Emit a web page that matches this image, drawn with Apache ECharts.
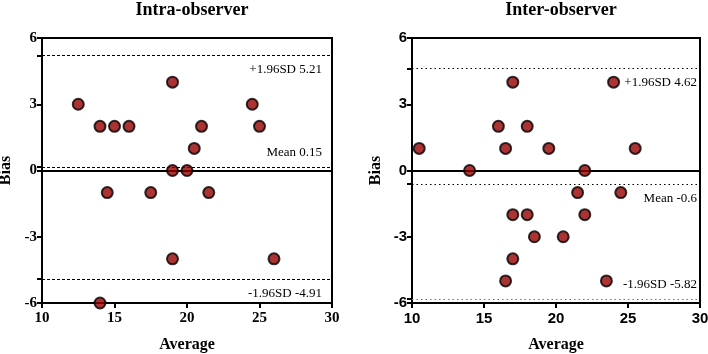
<!DOCTYPE html>
<html><head><meta charset="utf-8">
<script src="https://cdn.jsdelivr.net/npm/echarts@6/dist/echarts.min.js"></script>
<style>html,body{margin:0;padding:0;background:#fff}#c{width:708px;height:354px}</style>
</head><body><div id="c"></div>
<script>
const titles = ['Intra-observer', 'Inter-observer'];
const intraAvg  = [12.5, 14, 15, 16, 19, 24.5, 25, 21, 20.5, 19, 20, 14.5, 17.5, 21.5, 19, 26, 14];
const intraBias = [3, 2, 2, 2, 4, 3, 2, 2, 1, 0, 0, -1, -1, -1, -4, -4, -6];
const interAvg  = [10.5, 14, 16, 16.5, 17, 18, 19.5, 22, 24, 25.5, 21.5, 24.5, 17, 18, 22, 18.5, 20.5, 17, 16.5, 23.5];
const interBias = [1, 0, 2, 1, 4, 2, 1, 0, 4, 1, -1, -1, -2, -2, -2, -3, -3, -4, -5, -5];
const intraLines = [5.21, 0.15, -4.91];
const interLines = [4.62, -0.6, -5.82];
const intraLabels = ['+1.96SD 5.21', 'Mean 0.15', '-1.96SD -4.91'];
const interLabels = ['+1.96SD 4.62', 'Mean -0.6', '-1.96SD -5.82'];
const yTicks = [-6, -3, 0, 3, 6];

const serif = 'Liberation Serif';
const sans = "'Liberation Sans', Arial, sans-serif";
const chart = echarts.init(document.getElementById('c'));

function zip(a, b) { return a.map((v, i) => [v, b[i]]); }

function xAxis(idx, font) {
  return {
    gridIndex: idx, type: 'value', min: 10, max: 30, interval: 5,
    name: 'Average', nameLocation: 'middle', nameGap: 34,
    nameTextStyle: {fontFamily: serif, fontWeight: 'bold', fontSize: 16, color: '#000'},
    axisLine: {onZero: false, lineStyle: {color: '#000', width: 2}},
    axisTick: {show: true, length: 5, lineStyle: {color: '#000', width: 2}},
    axisLabel: {fontFamily: font, fontWeight: 'bold', fontSize: 15, color: '#000', margin: 8},
    splitLine: {show: false}
  };
}
function yAxis(idx, font, extra) {
  return {
    gridIndex: idx, type: 'value', min: -6, max: 6, interval: 3,
    name: 'Bias', nameLocation: 'middle', nameGap: 28,
    nameTextStyle: {fontFamily: serif, fontWeight: 'bold', fontSize: 16, color: '#000'},
    axisLine: {onZero: false, lineStyle: {color: '#000', width: 2}},
    axisTick: {show: true, length: 5, customValues: yTicks.concat(extra), lineStyle: {color: '#000', width: 2}},
    axisLabel: {fontFamily: font, fontWeight: 'bold', fontSize: 15, color: '#000', margin: 5, customValues: yTicks},
    splitLine: {show: false}
  };
}
function lines(vals, labels, positions, type, colors, dx) {
  const d = vals.map((v, i) => ({
    yAxis: v,
    lineStyle: {type: type, color: colors[i], width: 1.2},
    label: {show: true, formatter: labels[i], position: positions[i],
      fontFamily: serif, fontSize: 13, color: '#000', distance: [dx, 8]}
  }));
  d.push({yAxis: 0, lineStyle: {type: 'solid', color: '#000', width: 2}, label: {show: false}});
  return {symbol: 'none', silent: true, animation: false, data: d};
}
const item = {color: '#960000', borderColor: '#000', borderWidth: 2};

chart.setOption({
  animation: false,
  title: [
    {text: titles[0], left: 187, top: -4, textAlign: 'center',
     textStyle: {fontFamily: serif, fontWeight: 'bold', fontSize: 18, color: '#000'}},
    {text: titles[1], left: 556, top: -4, textAlign: 'center',
     textStyle: {fontFamily: serif, fontWeight: 'bold', fontSize: 18, color: '#000'}}
  ],
  grid: [
    {left: 42, right: 376, top: 38, bottom: 51, show: true, borderColor: '#000', borderWidth: 2, outerBoundsMode: 'none', containLabel: false},
    {left: 412, right: 8, top: 38, bottom: 51, show: true, borderColor: '#000', borderWidth: 2, outerBoundsMode: 'none', containLabel: false}
  ],
  xAxis: [xAxis(0, serif), xAxis(1, sans)],
  yAxis: [yAxis(0, serif, intraLines), yAxis(1, sans, interLines)],
  series: [
    {type: 'scatter', xAxisIndex: 0, yAxisIndex: 0, data: zip(intraAvg, intraBias),
     symbolSize: 11, itemStyle: item, z: 5,
     markLine: lines(intraLines, intraLabels, ['insideEndBottom', 'insideEndTop', 'insideEndBottom'], [3, 2], ['#000', '#000', '#000'], 10)},
    {type: 'scatter', xAxisIndex: 1, yAxisIndex: 1, data: zip(interAvg, interBias),
     symbolSize: 11, itemStyle: item, z: 5,
     markLine: lines(interLines, interLabels, ['insideEndBottom', 'insideEndBottom', 'insideEndTop'], [1.5, 3], ['#000', '#000', '#777'], 3)}
  ]
});
</script></body></html>
